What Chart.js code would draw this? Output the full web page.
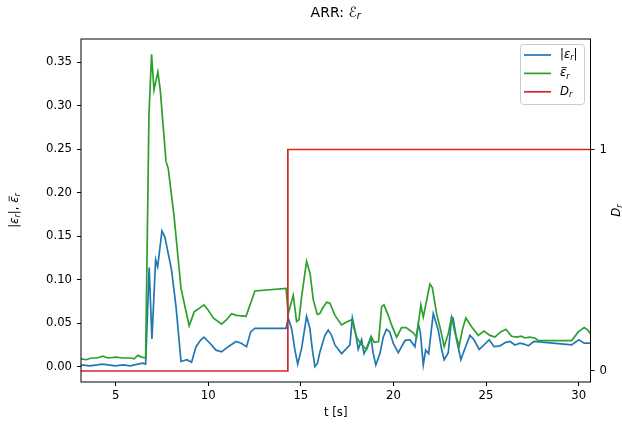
<!DOCTYPE html>
<html>
<head>
<meta charset="utf-8">
<script src="https://cdn.jsdelivr.net/npm/chart.js@4/dist/chart.umd.min.js"></script>
<style>
  body { margin: 0; background: #fff; }
  #wrap { width: 622px; height: 424px; }
</style>
</head>
<body>
<div id="wrap"><canvas id="arrChart" width="622" height="424"></canvas></div>
<script>
// |eps_r| samples
const tAbs = [3.13, 3.6, 4.0, 4.3, 4.6, 5.0, 5.4, 5.8, 6.2, 6.45,
    6.62, 6.81, 6.96, 7.16, 7.27, 7.50, 7.66, 8.02, 8.26, 8.53,
    8.85, 9.10, 9.34, 9.60, 9.77, 10.09, 10.42, 10.72, 11.08, 11.50,
    11.78, 12.07, 12.29, 12.52, 14.20, 14.32, 14.50, 14.68, 14.83, 15.04,
    15.18, 15.31, 15.49, 15.62, 15.76, 15.90, 16.03, 16.30, 16.48, 16.66,
    16.84, 17.20, 17.47, 17.65, 17.78, 17.96, 18.10, 18.28, 18.41, 18.55,
    18.78, 18.91, 19.05, 19.27, 19.45, 19.63, 19.80, 19.99, 20.26, 20.62,
    20.89, 21.16, 21.34, 21.45, 21.61, 21.74, 21.90, 22.15, 22.42, 22.60,
    22.74, 22.96, 23.14, 23.22, 23.41, 23.64, 23.86, 24.13, 24.35, 24.63,
    24.89, 25.17, 25.43, 25.75, 26.07, 26.30, 26.56, 26.83, 27.05, 27.28,
    27.58, 29.62, 30.01, 30.30, 30.64];
const absErr = [0.002, 0.001, 0.002, 0.003, 0.002, 0.001, 0.002, 0.001, 0.003, 0.004,
    0.003, 0.114, 0.032, 0.123, 0.115, 0.156, 0.149, 0.111, 0.069, 0.006,
    0.008, 0.005, 0.023, 0.031, 0.034, 0.027, 0.019, 0.017, 0.023, 0.029,
    0.027, 0.023, 0.040, 0.044, 0.044, 0.056, 0.044, 0.019, 0.003, 0.021,
    0.040, 0.058, 0.044, 0.020, 0.000, 0.004, 0.017, 0.036, 0.042, 0.036,
    0.025, 0.015, 0.021, 0.025, 0.056, 0.038, 0.020, 0.031, 0.015, 0.021,
    0.034, 0.015, 0.002, 0.015, 0.034, 0.043, 0.040, 0.027, 0.016, 0.030,
    0.031, 0.023, 0.049, 0.040, 0.002, 0.019, 0.015, 0.061, 0.042, 0.020,
    0.008, 0.016, 0.057, 0.056, 0.031, 0.008, 0.021, 0.036, 0.031, 0.020,
    0.025, 0.031, 0.023, 0.024, 0.028, 0.029, 0.025, 0.027, 0.026, 0.024,
    0.029, 0.025, 0.031, 0.027, 0.027];

// mean eps_r samples
const tMean = [3.13, 3.4, 3.7, 4.0, 4.3, 4.6, 5.0, 5.4, 5.8, 6.0,
    6.2, 6.4, 6.62, 6.80, 6.94, 7.07, 7.28, 7.41, 7.72, 7.84,
    8.16, 8.53, 8.97, 9.24, 9.51, 9.77, 10.0, 10.27, 10.72, 10.99,
    11.26, 11.53, 12.04, 12.52, 14.20, 14.32, 14.59, 14.77, 14.90, 15.04,
    15.31, 15.50, 15.67, 15.89, 16.02, 16.20, 16.39, 16.57, 16.84, 17.20,
    17.45, 17.74, 18.01, 18.28, 18.55, 18.82, 18.96, 19.20, 19.36, 19.49,
    19.72, 19.90, 20.17, 20.44, 20.68, 21.07, 21.25, 21.48, 21.61, 21.97,
    22.10, 22.33, 22.55, 22.74, 22.96, 23.14, 23.32, 23.55, 23.74, 23.91,
    24.22, 24.58, 24.89, 25.21, 25.48, 25.79, 26.07, 26.38, 26.67, 26.9,
    27.1, 27.34, 27.64, 27.82, 29.62, 29.98, 30.3, 30.5, 30.64];
const meanErr = [0.009, 0.008, 0.010, 0.010, 0.012, 0.010, 0.011, 0.010, 0.010, 0.009,
    0.013, 0.011, 0.010, 0.290, 0.359, 0.318, 0.339, 0.318, 0.236, 0.228,
    0.172, 0.090, 0.047, 0.063, 0.067, 0.071, 0.065, 0.056, 0.049, 0.054,
    0.061, 0.059, 0.058, 0.087, 0.090, 0.061, 0.082, 0.052, 0.054, 0.080,
    0.121, 0.107, 0.077, 0.060, 0.061, 0.068, 0.074, 0.073, 0.059, 0.048,
    0.051, 0.054, 0.034, 0.025, 0.020, 0.034, 0.028, 0.029, 0.069, 0.071,
    0.059, 0.048, 0.034, 0.045, 0.045, 0.039, 0.034, 0.071, 0.057, 0.095,
    0.091, 0.061, 0.042, 0.023, 0.038, 0.057, 0.039, 0.024, 0.044, 0.056,
    0.046, 0.036, 0.041, 0.036, 0.034, 0.040, 0.043, 0.035, 0.034, 0.035,
    0.033, 0.034, 0.033, 0.030, 0.030, 0.040, 0.045, 0.042, 0.038];

// D_r flag
const tFlag = [3.13, 14.27, 14.30, 30.64];
const flagVals = [0, 0, 1, 1];

const xTicks = [5, 10, 15, 20, 25, 30];
const yTicks = [0, 0.05, 0.10, 0.15, 0.20, 0.25, 0.30, 0.35];
const dTicks = [0, 1];

const FONT = '"DejaVu Sans", sans-serif';

const toPoints = (xs, ys) => xs.map((x, i) => ({ x: x, y: ys[i] }));
const fixTicks = (list) => (scale) => { scale.ticks = list.map(v => ({ value: v })); };

// draws a short math-like label: parts are [text, kind], kind n=normal i=italic s=subscript b=italic with bar
const richText = (ctx, parts, x, y, size) => {
    const fontFor = k => (k === 'n' ? '' : 'italic ') + (k === 's' ? size * 0.7 : size) + 'px ' + FONT;
    let w = 0;
    parts.forEach(([t, k]) => { ctx.font = fontFor(k); w += ctx.measureText(t).width; });
    let cx = x - w / 2;
    ctx.textAlign = 'left';
    ctx.textBaseline = 'middle';
    parts.forEach(([t, k]) => {
        ctx.font = fontFor(k);
        const tw = ctx.measureText(t).width;
        ctx.fillText(t, cx, y + (k === 's' ? size * 0.28 : 0));
        if (k === 'b') {
            ctx.beginPath();
            ctx.moveTo(cx + 1.5, y - size * 0.5);
            ctx.lineTo(cx + tw + 0.5, y - size * 0.5);
            ctx.lineWidth = 0.8;
            ctx.strokeStyle = ctx.fillStyle;
            ctx.stroke();
        }
        cx += tw;
    });
};

const absLabel = [['|', 'n'], ['ε', 'i'], ['r', 's'], ['|', 'n']];
const meanLabel = [['ε', 'b'], ['r', 's']];
const flagLabel = [['D', 'i'], ['r', 's']];

const decorations = {
    id: 'decorations',
    afterDatasetsDraw(chart) {
        const ctx = chart.ctx;
        const a = chart.chartArea;
        ctx.save();
        ctx.fillStyle = '#000';
        ctx.strokeStyle = '#000';
        ctx.lineWidth = 1;
        ctx.strokeRect(a.left, a.top, a.right - a.left, a.bottom - a.top);

        // title
        richText(ctx, [['ARR: ', 'n'], ['ℰ', 'i'], ['r', 's']], (a.left + a.right) / 2, 13, 14);
        // x label
        richText(ctx, [['t [s]', 'n']], (a.left + a.right) / 2, 413, 11.7);

        // left y label
        ctx.save();
        ctx.translate(15, (a.top + a.bottom) / 2);
        ctx.rotate(-Math.PI / 2);
        richText(ctx, absLabel.concat([[', ', 'n']], meanLabel), 0, 0, 11.7);
        ctx.restore();

        // right y label
        ctx.save();
        ctx.translate(617, (a.top + a.bottom) / 2);
        ctx.rotate(-Math.PI / 2);
        richText(ctx, flagLabel, 0, 0, 11.7);
        ctx.restore();

        // legend
        const lx = 520.5, ly = 44.5, lw = 64, lh = 60;
        ctx.beginPath();
        ctx.roundRect(lx, ly, lw, lh, 3);
        ctx.fillStyle = 'rgba(255,255,255,0.8)';
        ctx.fill();
        ctx.strokeStyle = '#cccccc';
        ctx.stroke();
        const rows = [['#1f77b4', absLabel], ['#2ca02c', meanLabel], ['#d62728', flagLabel]];
        rows.forEach(([c, parts], i) => {
            const yy = 55 + i * 18.4;
            ctx.beginPath();
            ctx.moveTo(524, yy);
            ctx.lineTo(551, yy);
            ctx.strokeStyle = c;
            ctx.lineWidth = 1.7;
            ctx.stroke();
            ctx.fillStyle = '#000';
            let w = 0;
            parts.forEach(([t, k]) => {
                ctx.font = (k === 'n' ? '' : 'italic ') + (k === 's' ? 8.2 : 11.7) + 'px ' + FONT;
                w += ctx.measureText(t).width;
            });
            richText(ctx, parts, 560 + w / 2, yy, 11.7);
        });
        ctx.restore();
    }
};

const lineSet = (label, pts, color, axis, order) => ({
    label: label,
    data: pts,
    borderColor: color,
    backgroundColor: color,
    borderWidth: 1.7,
    pointRadius: 0,
    tension: 0,
    fill: false,
    yAxisID: axis,
    order: order
});

const ctx = document.getElementById('arrChart').getContext('2d');
new Chart(ctx, {
    type: 'line',
    data: {
        datasets: [
            lineSet('|εr|', toPoints(tAbs, absErr), '#1f77b4', 'y', 3),
            lineSet('ε̄r', toPoints(tMean, meanErr), '#2ca02c', 'y', 2),
            lineSet('Dr', toPoints(tFlag, flagVals), '#d62728', 'yD', 1)
        ]
    },
    options: {
        responsive: false,
        devicePixelRatio: 1,
        animation: false,
        layout: { padding: { top: 39, left: 0, right: 0, bottom: 0 } },
        plugins: {
            legend: { display: false },
            title: { display: false },
            tooltip: { enabled: false }
        },
        scales: {
            x: {
                type: 'linear',
                min: 3.13,
                max: 30.64,
                afterBuildTicks: fixTicks(xTicks),
                afterFit: (s) => { s.height = 42; },
                grid: { drawOnChartArea: false, drawTicks: true, tickLength: 4, color: '#000' },
                border: { display: false },
                ticks: { color: '#000', padding: 3, font: { family: FONT, size: 11.7 }, callback: v => String(v) }
            },
            y: {
                position: 'left',
                min: -0.0176,
                max: 0.3767,
                afterBuildTicks: fixTicks(yTicks),
                afterFit: (s) => { s.width = 81; },
                grid: { drawOnChartArea: false, drawTicks: true, tickLength: 4, color: '#000' },
                border: { display: false },
                ticks: { color: '#000', padding: 5, font: { family: FONT, size: 11.7 }, callback: v => v.toFixed(2) }
            },
            yD: {
                position: 'right',
                min: -0.0497,
                max: 1.499,
                afterBuildTicks: fixTicks(dTicks),
                afterFit: (s) => { s.width = 31.5; },
                grid: { drawOnChartArea: false, drawTicks: true, tickLength: 4, color: '#000' },
                border: { display: false },
                ticks: { color: '#000', padding: 5, font: { family: FONT, size: 11.7 }, callback: v => String(v) }
            }
        }
    },
    plugins: [decorations]
});
</script>
</body>
</html>
